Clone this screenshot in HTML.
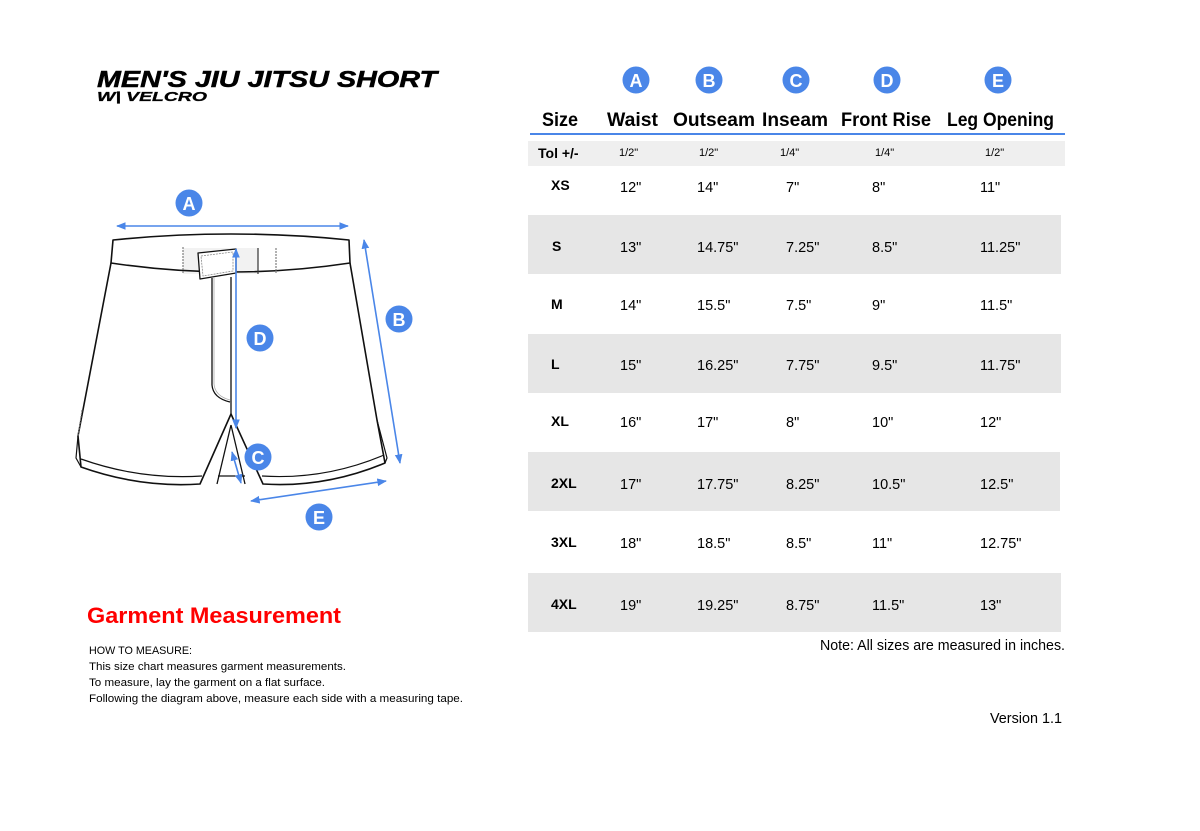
<!DOCTYPE html>
<html><head><meta charset="utf-8"><style>html,body{margin:0;padding:0;background:#fff}svg{display:block}</style></head>
<body>
<svg width="1200" height="831" viewBox="0 0 1200 831" xmlns="http://www.w3.org/2000/svg">
<defs>
<marker id="ar" viewBox="0 0 10 10" refX="9" refY="5" markerWidth="6" markerHeight="6" orient="auto-start-reverse"><path d="M0,1 L10,5 L0,9 z" fill="#4a86e8"/></marker>
</defs>
<rect width="1200" height="831" fill="#fff"/>
<!-- Title -->
<text x="97" y="87" font-family="Liberation Sans, sans-serif" font-weight="bold" font-style="italic" font-size="23" textLength="340" lengthAdjust="spacingAndGlyphs" fill="#000" stroke="#000" stroke-width="0.5">MEN'S JIU JITSU SHORT</text>
<text x="97" y="101" font-family="Liberation Sans, sans-serif" font-weight="bold" font-style="italic" font-size="13" textLength="110" lengthAdjust="spacingAndGlyphs" fill="#000" stroke="#000" stroke-width="0.3">W| VELCRO</text>

<!-- Shorts -->
<g fill="none" stroke="#111" stroke-width="1.6" stroke-linejoin="round">
<path d="M111,263 Q231,281 350,263 L377,420 L385,463 Q325,488 263,484 L231,414 L200,484 Q140,488 81,467 L78,436 Z" fill="#fff" stroke="none"/>
<path d="M113,240 Q231,228 349,240 L350,263 Q231,281 111,263 Z" fill="#fff" stroke="none"/>
<rect x="183" y="248" width="75" height="26" fill="#f2f2f2" stroke="none"/>
<path d="M113,240 Q231,228 349,240 L350,263 Q231,281 111,263 Z"/>
<path d="M111,263 L78,436 L81,467 Q140,488 200,484 L231,414 L263,484 Q325,488 385,463 L377,420 L350,263"/>
<path d="M78,436 L76,458 L81,467" stroke-width="1.2"/>
<path d="M82,410 L78,436" stroke="#777" stroke-width="1" stroke-dasharray="2,1"/>
<path d="M377,420 L387,458 L385,463" stroke-width="1.2"/>
<path d="M81,459 Q140,480 202,476 M218,476 L245,476 M262,476 Q325,480 384,455" stroke-width="1.2"/>
<path d="M231,425 L217,484 M231,425 L245,484" stroke-width="1.3"/>
<line x1="183" y1="247" x2="183" y2="273" stroke="#666" stroke-width="1" stroke-dasharray="2,1"/>
<line x1="258" y1="248" x2="258" y2="274" stroke="#333" stroke-width="1.2"/>
<line x1="276" y1="248" x2="276" y2="273" stroke="#666" stroke-width="1" stroke-dasharray="2,1"/>
<path d="M198,253 L236,249 L236,273 L200,279 Z" fill="#fff" stroke-width="1.3"/>
<path d="M201,256 L233,252 L233,271 L203,276 Z" stroke="#888" stroke-width="0.8" stroke-dasharray="2,1"/>
<path d="M212,278 L212,385 Q213,398 230,402" stroke-width="1.3"/>
<path d="M214,278 L214,384 Q215,396 230,400" stroke="#aaa" stroke-width="0.8"/>
<line x1="231" y1="277" x2="231" y2="414" stroke-width="1.3"/>
</g>
<!-- Measurement arrows -->
<g stroke="#4a86e8" stroke-width="1.6" fill="none">
<line x1="117" y1="226" x2="348" y2="226" marker-start="url(#ar)" marker-end="url(#ar)"/>
<line x1="364" y1="240" x2="400" y2="463" marker-start="url(#ar)" marker-end="url(#ar)"/>
<line x1="236" y1="249" x2="236" y2="428" marker-start="url(#ar)" marker-end="url(#ar)"/>
<line x1="232" y1="452" x2="241" y2="483" marker-start="url(#ar)" marker-end="url(#ar)"/>
<line x1="251" y1="501" x2="386" y2="481" marker-start="url(#ar)" marker-end="url(#ar)"/>
</g>
<g font-family="Liberation Sans, sans-serif" font-weight="bold" font-size="18" fill="#fff" text-anchor="middle">
<circle cx="189" cy="203" r="13.5" fill="#4a86e8"/><text x="189" y="210">A</text>
<circle cx="399" cy="319" r="13.5" fill="#4a86e8"/><text x="399" y="326">B</text>
<circle cx="260" cy="338" r="13.5" fill="#4a86e8"/><text x="260" y="345">D</text>
<circle cx="258" cy="457" r="13.5" fill="#4a86e8"/><text x="258" y="464">C</text>
<circle cx="319" cy="517" r="13.5" fill="#4a86e8"/><text x="319" y="524">E</text>
<circle cx="636" cy="80" r="13.5" fill="#4a86e8"/><text x="636" y="87">A</text>
<circle cx="709" cy="80" r="13.5" fill="#4a86e8"/><text x="709" y="87">B</text>
<circle cx="796" cy="80" r="13.5" fill="#4a86e8"/><text x="796" y="87">C</text>
<circle cx="887" cy="80" r="13.5" fill="#4a86e8"/><text x="887" y="87">D</text>
<circle cx="998" cy="80" r="13.5" fill="#4a86e8"/><text x="998" y="87">E</text>
</g>

<!-- Table -->
<g font-family="Liberation Sans, sans-serif" font-weight="bold" font-size="19" fill="#000">
<text x="542" y="126" textLength="36" lengthAdjust="spacingAndGlyphs">Size</text>
<text x="607" y="126" textLength="51" lengthAdjust="spacingAndGlyphs">Waist</text>
<text x="673" y="126" textLength="82" lengthAdjust="spacingAndGlyphs">Outseam</text>
<text x="762" y="126" textLength="66" lengthAdjust="spacingAndGlyphs">Inseam</text>
<text x="841" y="126" textLength="90" lengthAdjust="spacingAndGlyphs">Front Rise</text>
<text x="947" y="126" textLength="107" lengthAdjust="spacingAndGlyphs">Leg Opening</text>
</g>
<line x1="530" y1="134" x2="1065" y2="134" stroke="#4a86e8" stroke-width="2"/>
<rect x="528" y="141" width="537" height="25" fill="#efefef"/>
<rect x="528" y="215" width="533" height="59" fill="#e6e6e6"/>
<rect x="528" y="334" width="533" height="59" fill="#e6e6e6"/>
<rect x="528" y="452" width="532" height="59" fill="#e6e6e6"/>
<rect x="528" y="573" width="533" height="59" fill="#e6e6e6"/>
<g font-family="Liberation Sans, sans-serif" font-weight="bold" font-size="14" fill="#000">
<text x="538" y="158">Tol +/-</text>
<text x="551" y="190">XS</text>
<text x="552" y="251">S</text>
<text x="551" y="309">M</text>
<text x="551" y="369">L</text>
<text x="551" y="426">XL</text>
<text x="551" y="488">2XL</text>
<text x="551" y="547">3XL</text>
<text x="551" y="609">4XL</text>
</g>
<g font-family="Liberation Sans, sans-serif" font-size="11" fill="#000">
<text x="619" y="156">1/2"</text><text x="699" y="156">1/2"</text><text x="780" y="156">1/4"</text><text x="875" y="156">1/4"</text><text x="985" y="156">1/2"</text>
</g>
<g font-family="Liberation Sans, sans-serif" font-size="14.5" fill="#000">
<text y="192"><tspan x="620">12"</tspan><tspan x="697">14"</tspan><tspan x="786">7"</tspan><tspan x="872">8"</tspan><tspan x="980">11"</tspan></text>
<text y="252"><tspan x="620">13"</tspan><tspan x="697">14.75"</tspan><tspan x="786">7.25"</tspan><tspan x="872">8.5"</tspan><tspan x="980">11.25"</tspan></text>
<text y="310"><tspan x="620">14"</tspan><tspan x="697">15.5"</tspan><tspan x="786">7.5"</tspan><tspan x="872">9"</tspan><tspan x="980">11.5"</tspan></text>
<text y="370"><tspan x="620">15"</tspan><tspan x="697">16.25"</tspan><tspan x="786">7.75"</tspan><tspan x="872">9.5"</tspan><tspan x="980">11.75"</tspan></text>
<text y="427"><tspan x="620">16"</tspan><tspan x="697">17"</tspan><tspan x="786">8"</tspan><tspan x="872">10"</tspan><tspan x="980">12"</tspan></text>
<text y="489"><tspan x="620">17"</tspan><tspan x="697">17.75"</tspan><tspan x="786">8.25"</tspan><tspan x="872">10.5"</tspan><tspan x="980">12.5"</tspan></text>
<text y="548"><tspan x="620">18"</tspan><tspan x="697">18.5"</tspan><tspan x="786">8.5"</tspan><tspan x="872">11"</tspan><tspan x="980">12.75"</tspan></text>
<text y="610"><tspan x="620">19"</tspan><tspan x="697">19.25"</tspan><tspan x="786">8.75"</tspan><tspan x="872">11.5"</tspan><tspan x="980">13"</tspan></text>
</g>
<text x="820" y="650" font-family="Liberation Sans, sans-serif" font-size="14.5" textLength="245" lengthAdjust="spacingAndGlyphs">Note: All sizes are measured in inches.</text>
<text x="990" y="723" font-family="Liberation Sans, sans-serif" font-size="14.5" textLength="72" lengthAdjust="spacingAndGlyphs">Version 1.1</text>

<!-- Bottom left -->
<text x="87" y="623" font-family="Liberation Sans, sans-serif" font-weight="bold" font-size="22" fill="#ff0000" textLength="254" lengthAdjust="spacingAndGlyphs">Garment Measurement</text>
<g font-family="Liberation Sans, sans-serif" font-size="11" fill="#000">
<text x="89" y="654" textLength="103" lengthAdjust="spacingAndGlyphs">HOW TO MEASURE:</text>
<text x="89" y="670" textLength="257" lengthAdjust="spacingAndGlyphs">This size chart measures garment measurements.</text>
<text x="89" y="686" textLength="236" lengthAdjust="spacingAndGlyphs">To measure, lay the garment on a flat surface.</text>
<text x="89" y="702" textLength="374" lengthAdjust="spacingAndGlyphs">Following the diagram above, measure each side with a measuring tape.</text>
</g>
</svg>
</body></html>
